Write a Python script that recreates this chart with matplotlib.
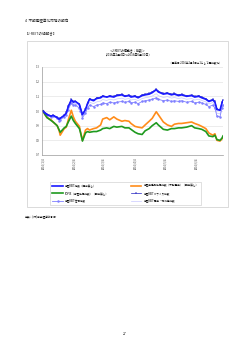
import numpy as np
import pandas as pd
import matplotlib
matplotlib.use('Agg')
import matplotlib.pyplot as plt
from matplotlib.patches import Rectangle

plt.rcParams['font.family'] = ['Noto Sans CJK JP', 'DejaVu Sans']

dates = ['2016-01-04', '2016-01-06', '2016-01-08', '2016-01-12', '2016-01-14', '2016-01-18',
         '2016-01-20', '2016-01-21', '2016-01-25', '2016-01-27', '2016-01-29', '2016-02-01',
         '2016-02-03', '2016-02-05', '2016-02-09', '2016-02-10', '2016-02-12', '2016-02-15',
         '2016-02-17', '2016-02-19', '2016-02-23', '2016-02-26', '2016-03-01', '2016-03-03',
         '2016-03-07', '2016-03-10', '2016-03-14', '2016-03-17', '2016-03-22', '2016-03-25',
         '2016-03-29', '2016-03-31', '2016-04-04', '2016-04-07', '2016-04-11', '2016-04-14',
         '2016-04-18', '2016-04-21', '2016-04-25', '2016-04-27', '2016-05-02', '2016-05-06',
         '2016-05-10', '2016-05-13', '2016-05-17', '2016-05-20', '2016-05-25', '2016-05-30',
         '2016-06-02', '2016-06-06', '2016-06-09', '2016-06-13', '2016-06-16', '2016-06-20',
         '2016-06-22', '2016-06-24', '2016-06-27', '2016-06-29', '2016-06-30']

reit = [1.000, 0.985, 0.975, 0.965, 0.970, 0.955, 0.945, 0.950, 0.970, 0.985, 1.030, 1.075,
        1.060, 1.065, 1.045, 1.020, 0.975, 1.010, 1.050, 1.080, 1.070, 1.085, 1.090, 1.100,
        1.095, 1.100, 1.095, 1.105, 1.110, 1.100, 1.105, 1.095, 1.100, 1.090, 1.105, 1.110,
        1.115, 1.125, 1.145, 1.130, 1.115, 1.120, 1.110, 1.115, 1.105, 1.110, 1.100, 1.105,
        1.095, 1.100, 1.090, 1.080, 1.065, 1.075, 1.060, 1.010, 1.005, 1.055, 1.070]

realestate = [1.000, 0.975, 0.955, 0.940, 0.925, 0.900, 0.865, 0.835, 0.880, 0.890, 0.940, 1.005,
              0.960, 0.930, 0.895, 0.860, 0.800, 0.870, 0.880, 0.870, 0.880, 0.885, 0.905, 0.945,
              0.955, 0.940, 0.960, 0.945, 0.930, 0.935, 0.930, 0.915, 0.895, 0.890, 0.885, 0.905,
              0.930, 0.950, 0.995, 0.975, 0.925, 0.905, 0.895, 0.910, 0.915, 0.915, 0.920, 0.925,
              0.915, 0.905, 0.895, 0.880, 0.850, 0.835, 0.845, 0.800, 0.795, 0.810, 0.820]

topix = [1.000, 0.975, 0.955, 0.935, 0.925, 0.900, 0.870, 0.855, 0.885, 0.895, 0.925, 0.965,
         0.935, 0.915, 0.880, 0.855, 0.795, 0.850, 0.860, 0.855, 0.860, 0.860, 0.870, 0.880,
         0.885, 0.880, 0.895, 0.890, 0.895, 0.885, 0.885, 0.875, 0.855, 0.845, 0.840, 0.865,
         0.880, 0.900, 0.920, 0.905, 0.875, 0.870, 0.880, 0.880, 0.885, 0.885, 0.890, 0.900,
         0.885, 0.880, 0.875, 0.860, 0.830, 0.825, 0.835, 0.805, 0.800, 0.815, 0.830]

office = [1.000, 0.988, 0.978, 0.968, 0.972, 0.958, 0.948, 0.952, 0.972, 0.990, 1.035, 1.080,
          1.065, 1.068, 1.048, 1.025, 0.980, 1.012, 1.055, 1.085, 1.075, 1.090, 1.095, 1.105,
          1.098, 1.105, 1.100, 1.110, 1.115, 1.105, 1.110, 1.100, 1.105, 1.095, 1.110, 1.115,
          1.120, 1.130, 1.150, 1.135, 1.120, 1.125, 1.115, 1.120, 1.110, 1.115, 1.105, 1.110,
          1.100, 1.105, 1.095, 1.085, 1.070, 1.080, 1.065, 1.015, 1.008, 1.060, 1.075]

residential = [1.000, 0.985, 0.970, 0.960, 0.965, 0.950, 0.935, 0.940, 0.960, 0.975, 1.010, 1.055,
               1.040, 1.040, 1.020, 1.000, 0.955, 0.985, 1.020, 1.040, 1.030, 1.040, 1.045, 1.055,
               1.050, 1.060, 1.055, 1.060, 1.065, 1.060, 1.065, 1.055, 1.060, 1.050, 1.065, 1.070,
               1.075, 1.080, 1.090, 1.080, 1.070, 1.075, 1.065, 1.070, 1.065, 1.070, 1.060, 1.065,
               1.055, 1.060, 1.055, 1.045, 1.030, 1.040, 1.020, 0.965, 0.960, 1.020, 1.040]

commercial = [1.000, 0.982, 0.972, 0.962, 0.968, 0.952, 0.940, 0.946, 0.965, 0.980, 1.020, 1.062,
              1.050, 1.052, 1.032, 1.010, 0.965, 0.998, 1.035, 1.060, 1.050, 1.062, 1.068, 1.078,
              1.072, 1.080, 1.075, 1.082, 1.088, 1.080, 1.085, 1.075, 1.080, 1.070, 1.085, 1.090,
              1.095, 1.102, 1.118, 1.105, 1.092, 1.098, 1.088, 1.092, 1.085, 1.090, 1.080, 1.085,
              1.075, 1.080, 1.072, 1.062, 1.048, 1.058, 1.040, 0.985, 0.980, 1.040, 1.055]

labels = ['東証REIT指数（配当無し）', '東証業種別株価指数（不動産業）（配当無し）',
          'TOPIX（東証株価指数）（配当無し）', '東証REITオフィス指数',
          '東証REIT住宅指数', '東証REIT商業・物流等指数']

tick_dates = ['2016-01-04', '2016-02-04', '2016-03-04', '2016-04-04', '2016-05-04', '2016-06-04']
tick_labels = ['2016/1/4', '2016/2/4', '2016/3/4', '2016/4/4', '2016/5/4', '2016/6/4']

x = pd.to_datetime(dates)

fig = plt.figure(figsize=(2.5, 3.53), dpi=100)

# page headings
fig.text(25/250, 1 - 21/353, '4  不動産証券化市場の動向', fontsize=2.6, va='center', color='#222222')
fig.text(25/250, 1 - 33/353, '【J-REITの値動き】', fontsize=2.6, va='center', color='#222222')

# chart frame
fig.patches.append(Rectangle((27/250, 1 - 207/353), 201/250, 166/353,
                             transform=fig.transFigure, fill=False,
                             edgecolor='#cccccc', linewidth=0.5))

fig.text(128/250, 1 - 50/353, '＜J-REITの値動き：指数＞', fontsize=2.2, ha='center', va='center')
fig.text(128/250, 1 - 54.5/353, '（2016年1月4日～2016年6月30日）', fontsize=2.2, ha='center', va='center')
fig.text(222/250, 1 - 62/353, '（基準日 2016年1月4日＝1として再指数化）', fontsize=1.9, ha='right', va='center')

ax = fig.add_axes([42/250, 1 - 155/353, 181/250, 88/353])

l_com, = ax.plot(x, commercial, color='#c8c8ff', lw=0.5, label=labels[5])
l_res, = ax.plot(x, residential, color='#8080ff', lw=0.6, marker='o', ms=0.8, label=labels[4])
l_off, = ax.plot(x, office, color='#2020c0', lw=0.5, marker='+', ms=1.0, mew=0.3, label=labels[3])
l_re, = ax.plot(x, realestate, color='#ff8c1a', lw=1.2, label=labels[1])
l_tp, = ax.plot(x, topix, color='#1f9a1f', lw=1.2, label=labels[2])
l_reit, = ax.plot(x, reit, color='#1a1aff', lw=1.2, label=labels[0])

ax.set_ylim(0.7, 1.3)
ax.set_yticks(np.arange(0.7, 1.31, 0.1))
ax.set_yticklabels(['0.7', '0.8', '0.9', '1.0', '1.1', '1.2', '1.3'])
ax.set_xlim(pd.Timestamp('2016-01-03'), pd.Timestamp('2016-06-30'))
ax.set_xticks(pd.to_datetime(tick_dates))
ax.set_xticklabels(tick_labels, rotation=90)
ax.tick_params(labelsize=2.0, length=0, pad=1.5, colors='#444444')
ax.grid(axis='y', color='#dddddd', lw=0.4)
ax.set_axisbelow(True)
for s in ['top', 'right']:
    ax.spines[s].set_visible(False)
for s in ['left', 'bottom']:
    ax.spines[s].set_color('#999999')
    ax.spines[s].set_linewidth(0.5)

# ncol=2 fills by column: left column first, then right column
hh = [l_reit, l_tp, l_res, l_re, l_off, l_com]
leg = fig.legend(hh, [h.get_label() for h in hh], loc='lower left', ncol=2, mode='expand',
                 bbox_to_anchor=(49/250, 1 - 206/353, 153/250, 19/353),
                 fontsize=1.9, frameon=True, fancybox=False, edgecolor='#bbbbbb',
                 handlelength=4, borderpad=0.8, labelspacing=1.3)
leg.get_frame().set_linewidth(0.4)

fig.text(25/250, 1 - 217/353, '出典：(株)東京証券取引所', fontsize=2.0, va='center')
fig.text(125/250, 1 - 334/353, '27', fontsize=2.4, ha='center', va='center')

fig.savefig('out.png', dpi=100)
